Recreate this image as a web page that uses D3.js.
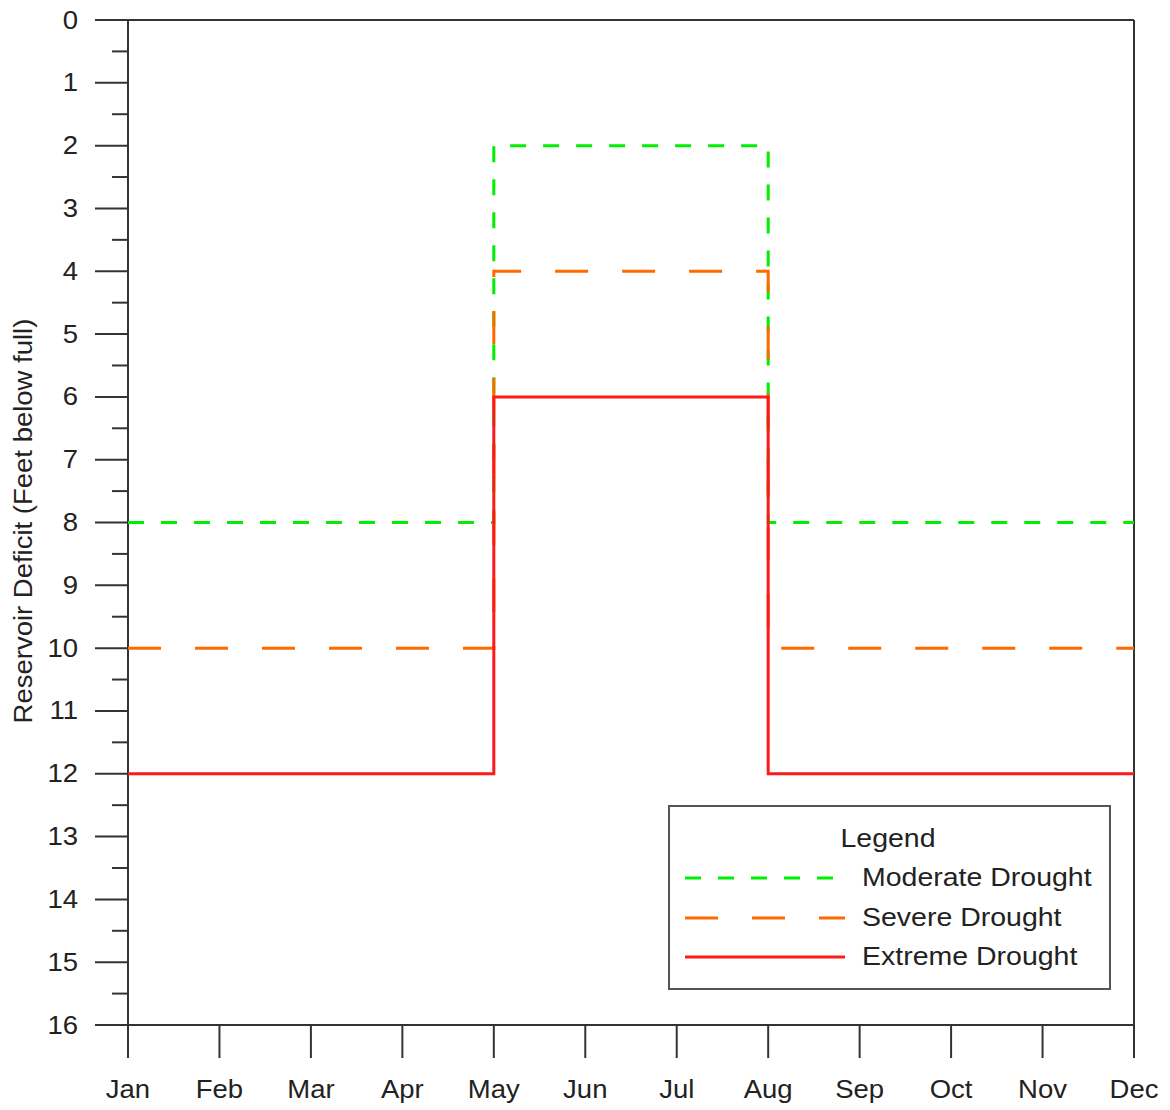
<!DOCTYPE html>
<html><head><meta charset="utf-8">
<script src="https://cdn.jsdelivr.net/npm/d3@7"></script>
<style>body{margin:0;background:#fff}text{font-family:"Liberation Sans",Arial,sans-serif;fill:#222}</style>
</head><body><svg id="c" width="1170" height="1110"></svg>
<script>
const months = ["Jan","Feb","Mar","Apr","May","Jun","Jul","Aug","Sep","Oct","Nov","Dec"];
const moderate = [8,8,8,8,2,2,2,8,8,8,8,8];
const severe   = [10,10,10,10,4,4,4,10,10,10,10,10];
const extreme  = [12,12,12,12,6,6,6,12,12,12,12,12];
const yTicks = d3.range(0,17,1);
const yMinor = d3.range(0.5,16,1);
const seriesNames = ["Moderate Drought","Severe Drought","Extreme Drought"];
const seriesColors = ["#00ee00","#ff6a00","#ff1a1a"];
const seriesDash = ["16,17","33,34",null];

const svg = d3.select("#c");
const L=128,R=1134,T=20,B=1025;
const x = d3.scalePoint().domain(months).range([L,R]);
const y = d3.scaleLinear().domain([0,16]).range([T,B]);
const sx = 1.1;
const sxl = 1.14;
const fs = 25;
const axisCol="#333";

// frame lines
svg.append("line").attr("x1",95).attr("x2",R).attr("y1",T).attr("y2",T).attr("stroke",axisCol).attr("stroke-width",2);
svg.append("line").attr("x1",95).attr("x2",R).attr("y1",B).attr("y2",B).attr("stroke",axisCol).attr("stroke-width",2);
svg.append("line").attr("x1",L).attr("x2",L).attr("y1",T).attr("y2",B+33).attr("stroke",axisCol).attr("stroke-width",2);
svg.append("line").attr("x1",R).attr("x2",R).attr("y1",T).attr("y2",B+33).attr("stroke",axisCol).attr("stroke-width",2);

// y ticks
svg.selectAll(".ym").data(yTicks).join("line").attr("x1",95).attr("x2",L).attr("y1",d=>y(d)).attr("y2",d=>y(d)).attr("stroke",axisCol).attr("stroke-width",2);
svg.selectAll(".yn").data(yMinor).join("line").attr("x1",112).attr("x2",L).attr("y1",d=>y(d)).attr("y2",d=>y(d)).attr("stroke",axisCol).attr("stroke-width",2);
svg.selectAll(".yl").data(yTicks).join("text")
  .attr("transform",d=>`translate(78,${y(d)}) scale(${sx},1)`)
  .attr("text-anchor","end").attr("dominant-baseline","central").attr("font-size",fs).text(d=>d);

// x ticks
svg.selectAll(".xt").data(months).join("line").attr("x1",d=>x(d)).attr("x2",d=>x(d)).attr("y1",B).attr("y2",B+33).attr("stroke",axisCol).attr("stroke-width",2);
svg.selectAll(".xl").data(months).join("text")
  .attr("transform",d=>`translate(${x(d)},1098) scale(${sx},1)`)
  .attr("text-anchor","middle").attr("font-size",fs).text(d=>d);

// y title
svg.append("text").attr("transform",`translate(32,521) rotate(-90) scale(1.1,1)`)
  .attr("text-anchor","middle").attr("font-size",25).text("Reservoir Deficit (Feet below full)");

// series
const line = d3.line().x((d,i)=>x(months[i])).y(d=>y(d)).curve(d3.curveStepAfter);
[moderate,severe,extreme].forEach((s,k)=>{
  svg.append("path").attr("d",line(s)).attr("fill","none").attr("stroke",seriesColors[k])
    .attr("stroke-width",3).attr("stroke-dasharray",seriesDash[k]);
});

// legend
const lg = svg.append("g");
lg.append("rect").attr("x",669).attr("y",806).attr("width",441).attr("height",183).attr("fill","#fff").attr("stroke","#555").attr("stroke-width",2);
lg.append("text").attr("transform",`translate(888,847) scale(${sxl},1)`).attr("text-anchor","middle").attr("font-size",fs).text("Legend");
const ly=[878,918,957];
seriesNames.forEach((n,k)=>{
  lg.append("line").attr("x1",685).attr("x2",845).attr("y1",ly[k]).attr("y2",ly[k]).attr("stroke",seriesColors[k]).attr("stroke-width",3).attr("stroke-dasharray",seriesDash[k]);
  lg.append("text").attr("transform",`translate(862,${ly[k]+8}) scale(${sxl},1)`).attr("font-size",fs).text(n);
});
</script></body></html>
